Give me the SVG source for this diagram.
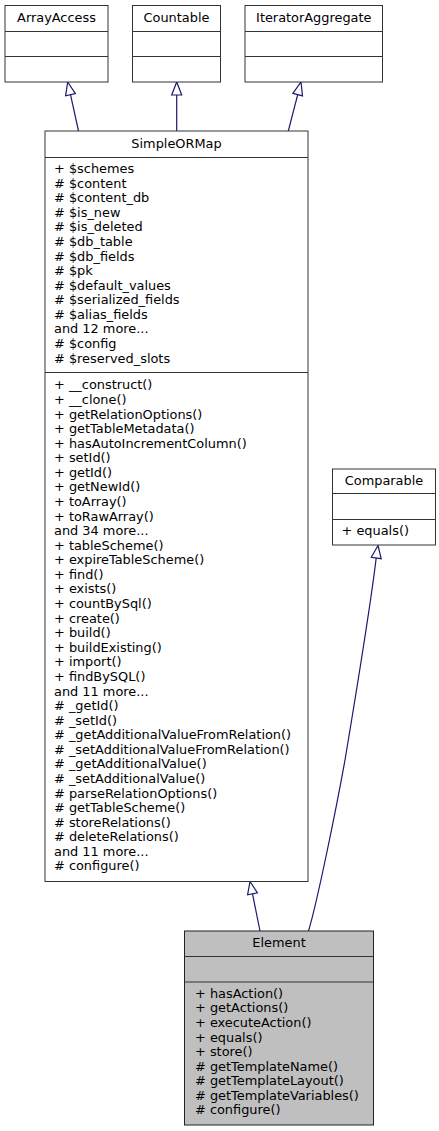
<svg xmlns="http://www.w3.org/2000/svg" width="439" height="1131" viewBox="0 0 439 1131">
<style>
.box{fill:#ffffff;stroke:#333333;stroke-width:1}
.focus{fill:#bfbfbf;stroke:#222222;stroke-width:1}
.div{stroke:#333333;stroke-width:1}
text{font-family:"DejaVu Sans","Liberation Sans",sans-serif;font-size:12.9px;fill:#000000}
.c{text-anchor:middle}
.edge{fill:none;stroke:#191970;stroke-width:1.2}
.head{fill:#ffffff;stroke:#191970;stroke-width:1.2}
</style>
<rect width="439" height="1131" fill="#ffffff"/>
<g id="connectors">
  <path class="edge" d="M78.5,131 L70.5,94.7"/>
  <polygon class="head" points="67.7,82 75.4,93.6 65.6,95.8"/>
  <path class="edge" d="M176.7,131 L176.7,95"/>
  <polygon class="head" points="176.7,82 181.7,95 171.7,95"/>
  <path class="edge" d="M288.3,131 L297.7,94.6"/>
  <polygon class="head" points="301,82 302.5,95.9 292.9,93.3"/>
  <path class="edge" d="M260,931 L252.5,893.8"/>
  <polygon class="head" points="250,881.5 257.4,892.8 247.6,894.8"/>
  <path class="edge" d="M308.5,931 C317,903 336,810 345,760 C355,700 370,610 376.2,558"/>
  <polygon class="head" points="378,545.5 381.2,558.7 371.3,557.3"/>
</g>
<g id="node-ArrayAccess">
  <rect class="box" x="5" y="5.5" width="103" height="76.5"/>
  <line class="div" x1="5" y1="31.5" x2="108" y2="31.5"/>
  <line class="div" x1="5" y1="56.5" x2="108" y2="56.5"/>
  <text class="c" x="56.5" y="22">ArrayAccess</text>
</g>
<g id="node-Countable">
  <rect class="box" x="132.5" y="5.5" width="88" height="76.5"/>
  <line class="div" x1="132.5" y1="31.5" x2="220.5" y2="31.5"/>
  <line class="div" x1="132.5" y1="56.5" x2="220.5" y2="56.5"/>
  <text class="c" x="176.5" y="22">Countable</text>
</g>
<g id="node-IteratorAggregate">
  <rect class="box" x="245" y="5.5" width="137.5" height="76.5"/>
  <line class="div" x1="245" y1="31.5" x2="382.5" y2="31.5"/>
  <line class="div" x1="245" y1="56.5" x2="382.5" y2="56.5"/>
  <text class="c" x="313.8" y="22">IteratorAggregate</text>
</g>
<g id="node-SimpleORMap">
  <rect class="box" x="45" y="131" width="263" height="750.5"/>
  <line class="div" x1="45" y1="157.5" x2="308" y2="157.5"/>
  <line class="div" x1="45" y1="372.5" x2="308" y2="372.5"/>
  <text class="c" x="176.5" y="147.5">SimpleORMap</text>
  <text x="54">
    <tspan x="54" y="173">+ $schemes</tspan>
    <tspan x="54" y="187.6"># $content</tspan>
    <tspan x="54" y="202.2"># $content_db</tspan>
    <tspan x="54" y="216.7"># $is_new</tspan>
    <tspan x="54" y="231.3"># $is_deleted</tspan>
    <tspan x="54" y="245.9"># $db_table</tspan>
    <tspan x="54" y="260.5"># $db_fields</tspan>
    <tspan x="54" y="275.1"># $pk</tspan>
    <tspan x="54" y="289.6"># $default_values</tspan>
    <tspan x="54" y="304.2"># $serialized_fields</tspan>
    <tspan x="54" y="318.8"># $alias_fields</tspan>
    <tspan x="54" y="333.4">and 12 more...</tspan>
    <tspan x="54" y="348"># $config</tspan>
    <tspan x="54" y="362.5"># $reserved_slots</tspan>
  </text>
  <text x="54">
    <tspan x="54" y="389.3">+ __construct()</tspan>
    <tspan x="54" y="403.9">+ __clone()</tspan>
    <tspan x="54" y="418.5">+ getRelationOptions()</tspan>
    <tspan x="54" y="433">+ getTableMetadata()</tspan>
    <tspan x="54" y="447.6">+ hasAutoIncrementColumn()</tspan>
    <tspan x="54" y="462.2">+ setId()</tspan>
    <tspan x="54" y="476.8">+ getId()</tspan>
    <tspan x="54" y="491.4">+ getNewId()</tspan>
    <tspan x="54" y="505.9">+ toArray()</tspan>
    <tspan x="54" y="520.5">+ toRawArray()</tspan>
    <tspan x="54" y="535.1">and 34 more...</tspan>
    <tspan x="54" y="549.7">+ tableScheme()</tspan>
    <tspan x="54" y="564.3">+ expireTableScheme()</tspan>
    <tspan x="54" y="578.8">+ find()</tspan>
    <tspan x="54" y="593.4">+ exists()</tspan>
    <tspan x="54" y="608">+ countBySql()</tspan>
    <tspan x="54" y="622.6">+ create()</tspan>
    <tspan x="54" y="637.2">+ build()</tspan>
    <tspan x="54" y="651.7">+ buildExisting()</tspan>
    <tspan x="54" y="666.3">+ import()</tspan>
    <tspan x="54" y="680.9">+ findBySQL()</tspan>
    <tspan x="54" y="695.5">and 11 more...</tspan>
    <tspan x="54" y="710.1"># _getId()</tspan>
    <tspan x="54" y="724.6"># _setId()</tspan>
    <tspan x="54" y="739.2"># _getAdditionalValueFromRelation()</tspan>
    <tspan x="54" y="753.8"># _setAdditionalValueFromRelation()</tspan>
    <tspan x="54" y="768.4"># _getAdditionalValue()</tspan>
    <tspan x="54" y="783"># _setAdditionalValue()</tspan>
    <tspan x="54" y="797.5"># parseRelationOptions()</tspan>
    <tspan x="54" y="812.1"># getTableScheme()</tspan>
    <tspan x="54" y="826.7"># storeRelations()</tspan>
    <tspan x="54" y="841.3"># deleteRelations()</tspan>
    <tspan x="54" y="855.9">and 11 more...</tspan>
    <tspan x="54" y="870.4"># configure()</tspan>
  </text>
</g>
<g id="node-Comparable">
  <rect class="box" x="332.5" y="469" width="103" height="76"/>
  <line class="div" x1="332.5" y1="493.5" x2="435.5" y2="493.5"/>
  <line class="div" x1="332.5" y1="519.5" x2="435.5" y2="519.5"/>
  <text class="c" x="384" y="485">Comparable</text>
  <text x="341.5" y="535">+ equals()</text>
</g>
<g id="node-Element">
  <rect class="focus" x="184.5" y="931" width="189" height="194"/>
  <line class="div" x1="184.5" y1="956.5" x2="373.5" y2="956.5"/>
  <line class="div" x1="184.5" y1="982" x2="373.5" y2="982"/>
  <text class="c" x="279" y="947.3">Element</text>
  <text x="195">
    <tspan x="195" y="997.8">+ hasAction()</tspan>
    <tspan x="195" y="1012.4">+ getActions()</tspan>
    <tspan x="195" y="1027">+ executeAction()</tspan>
    <tspan x="195" y="1041.5">+ equals()</tspan>
    <tspan x="195" y="1056.1">+ store()</tspan>
    <tspan x="195" y="1070.7"># getTemplateName()</tspan>
    <tspan x="195" y="1085.3"># getTemplateLayout()</tspan>
    <tspan x="195" y="1099.9"># getTemplateVariables()</tspan>
    <tspan x="195" y="1114.4"># configure()</tspan>
  </text>
</g>
</svg>
